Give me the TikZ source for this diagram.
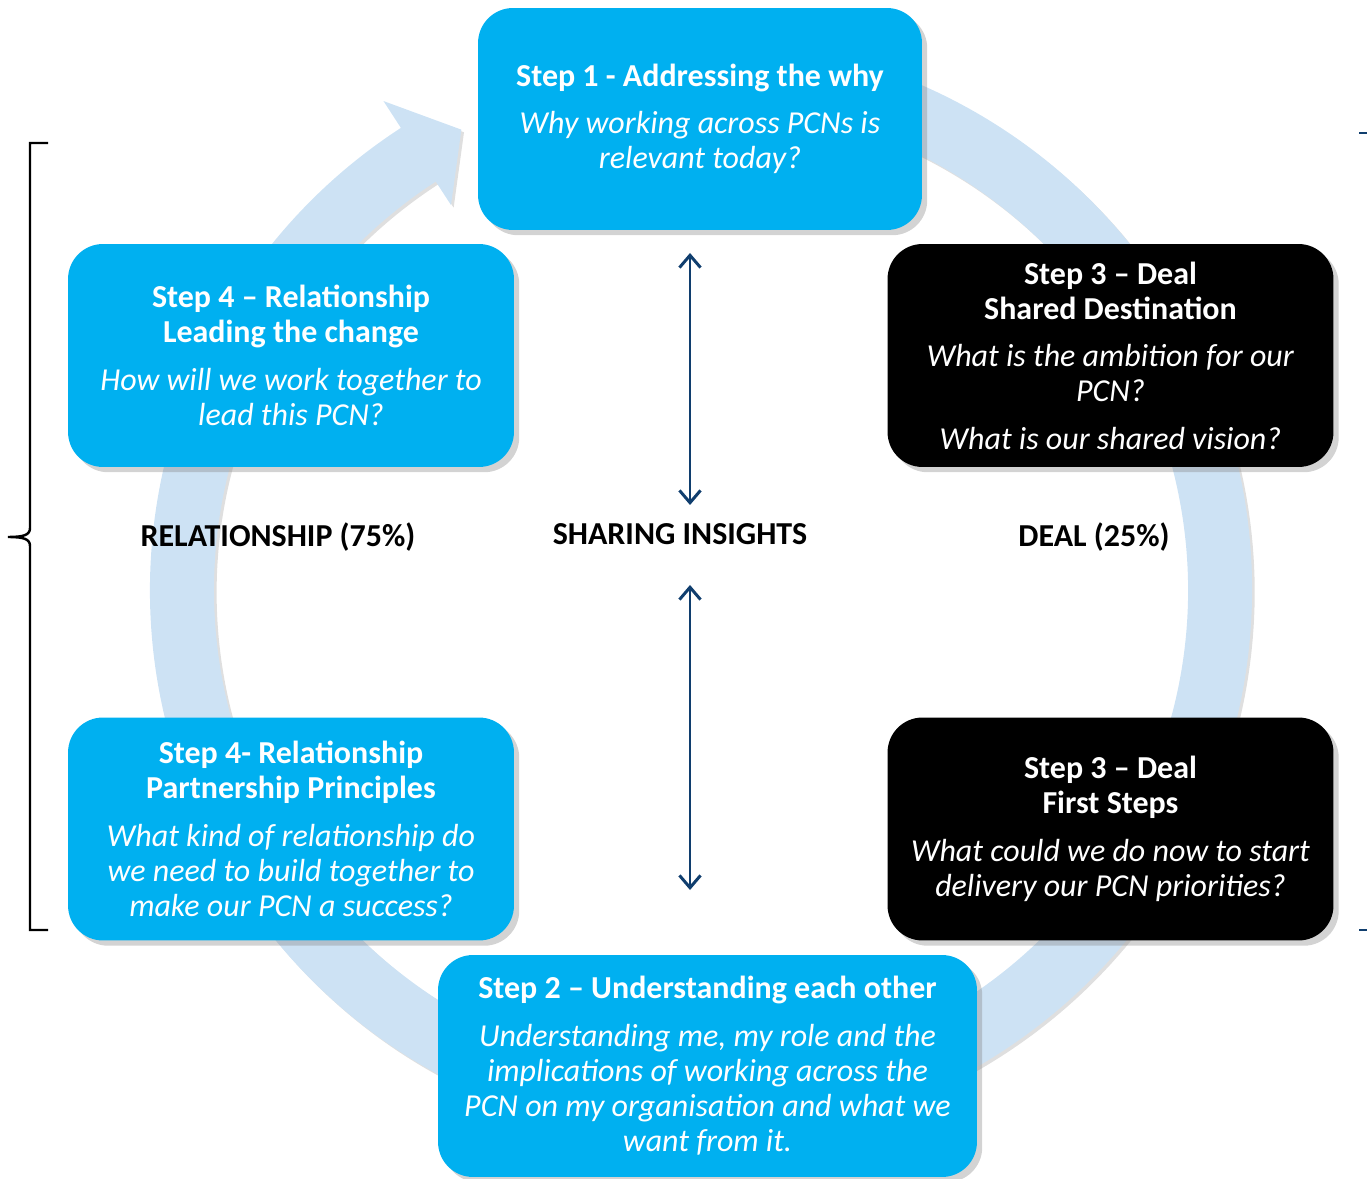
\documentclass[tikz,border=0pt]{standalone}
\usepackage{fontspec}
\setmainfont{Carlito}
\usepackage{tikz}
\usetikzlibrary{arrows.meta, calc, shadows, positioning}
\definecolor{boxcyan}{RGB}{0,176,240}
\definecolor{ringblue}{RGB}{205,226,244}
\definecolor{navy}{RGB}{16,62,110}

\begin{document}
\begin{tikzpicture}[x=0.02cm, y=0.02cm,
  stepbox/.style={rounded corners=0.7cm, fill=boxcyan, text=white, align=center,
    font=\fontsize{18.2}{20}\selectfont, minimum width=8.92cm, minimum height=4.46cm,
    drop shadow={shadow xshift=3pt, shadow yshift=-3pt, opacity=0.35}},
  dealbox/.style={stepbox, fill=black},
  midlabel/.style={font=\fontsize{18.2}{20}\selectfont\bfseries},
  insight/.style={navy, line width=1.7pt,
    {Straight Barb[length=7pt,width=12pt]}-{Straight Barb[length=7pt,width=12pt]}}]
\useasboundingbox (0,0) rectangle (1367,1178);
\coordinate (O) at (701,588);
\fill[ringblue, drop shadow={shadow xshift=1.5pt, shadow yshift=-1.5pt, opacity=0.25}]
  ($(O)+(123:551)$) arc[start angle=123, end angle=463, radius=551]
  -- ($(O)+(463:487)$) arc[start angle=463, end angle=123, radius=487]
  -- ($(O)+(123:459)$) -- ($(O)+(117.5:519)$) -- ($(O)+(123:583)$) -- cycle;
\node[stepbox, minimum width=8.88cm, minimum height=4.44cm] (step1) at (700,1059)
  {\textbf{Step 1 - Addressing the why}\\[7pt]
   \textit{Why working across PCNs is}\\ \textit{relevant today?}};
\node[stepbox] (rel1) at (291,822.5)
  {\textbf{Step 4 – Relationship}\\ \textbf{Leading the change}\\[7pt]
   \textit{How will we work together to}\\ \textit{lead this PCN?}};
\node[dealbox] (deal1) at (1110.5,822.5)
  {\textbf{Step 3 – Deal}\\ \textbf{Shared Destination}\\[7pt]
   \textit{What is the ambition for our}\\ \textit{PCN?}\\[7pt]
   \textit{What is our shared vision?}};
\node[stepbox] (rel2) at (291,349)
  {\textbf{Step 4- Relationship}\\ \textbf{Partnership Principles}\\[7pt]
   \textit{What kind of relationship do}\\ \textit{we need to build together to}\\
   \textit{make our PCN a success?}};
\node[dealbox] (deal2) at (1110.5,349)
  {\textbf{Step 3 – Deal}\\ \textbf{First Steps}\\[7pt]
   \textit{What could we do now to start}\\ \textit{delivery our PCN priorities?}};
\node[stepbox, minimum width=10.78cm, minimum height=4.44cm] (step2) at (707.5,112)
  {\textbf{Step 2 – Understanding each other}\\[7pt]
   \textit{Understanding me, my role and the}\\ \textit{implications of working across the}\\
   \textit{PCN on my organisation and what we}\\ \textit{want from it.}};
\node[midlabel] (relationship) at (278,641) {RELATIONSHIP (75\%)};
\node[midlabel] (insights) at (680,644) {SHARING INSIGHTS};
\node[midlabel] (deal) at (1094,641) {DEAL (25\%)};
\coordinate (up1) at (690,925);
\coordinate (dn1) at (690,673);
\coordinate (up2) at (690,593);
\coordinate (dn2) at (690,288);
\draw[insight] (up1) -- (dn1);
\draw[insight] (up2) -- (dn2);
\draw[line width=1.4pt] (48,1035) -| (30,650) .. controls (30,643) and (24,641) .. (8,641)
  .. controls (24,641) and (30,639) .. (30,632) |- (48,248);
\draw[navy, line width=1.4pt] (1359,1045) -- (1367,1045);
\draw[navy, line width=1.4pt] (1359,248) -- (1367,248);
\end{tikzpicture}
\end{document}
